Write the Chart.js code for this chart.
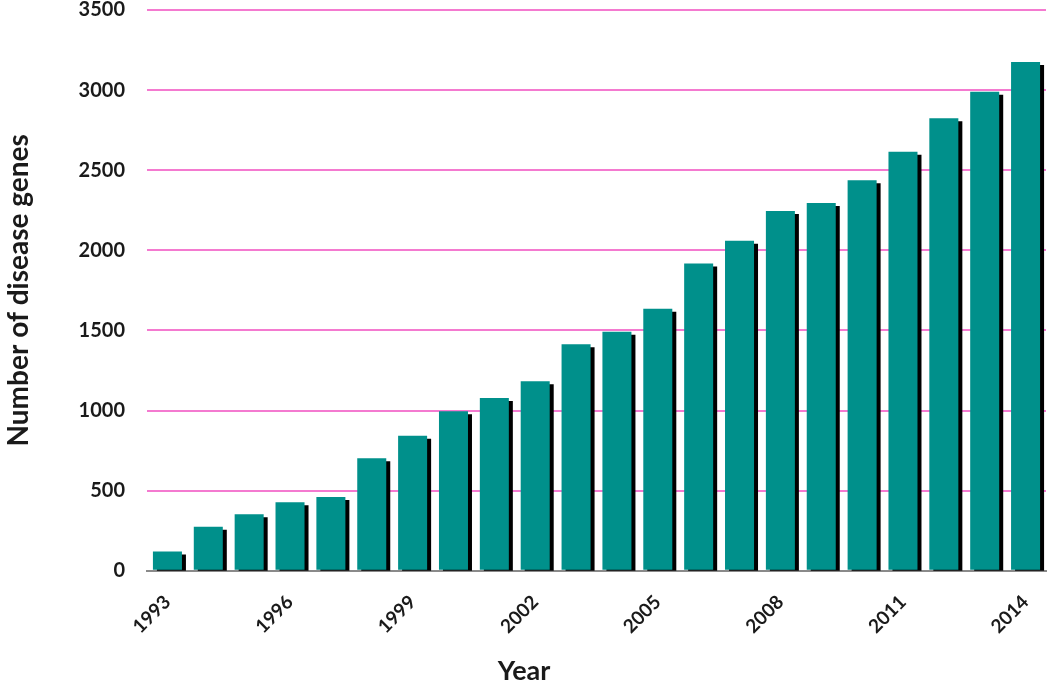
<!DOCTYPE html>
<html>
<head>
<meta charset="utf-8">
<script src="https://cdn.jsdelivr.net/npm/chart.js@4/dist/chart.umd.min.js"></script>
<style>
  html, body { margin: 0; padding: 0; background: #fff; }
  #wrap { width: 1050px; height: 685px; }
</style>
</head>
<body>
<div id="wrap"><canvas id="genes-chart"></canvas></div>
<script>
const years = [
  "1993", "1994", "1995", "1996", "1997", "1998", "1999", "2000", "2001", "2002", "2003",
  "2004", "2005", "2006", "2007", "2008", "2009", "2010", "2011", "2012", "2013", "2014",
];
const diseaseGenes = [
  120, 275, 352, 428, 460, 702, 843, 995, 1078, 1183, 1413,
  1492, 1635, 1918, 2060, 2245, 2295, 2437, 2615, 2825, 2990, 3175,
];
const shownYears = ["1993", "1996", "1999", "2002", "2005", "2008", "2011", "2014"];

const TEAL = "#00908b";
const PINK = "#f47ad0";
const INK  = "#1a1a1a";
const FONT = "Lato, 'Open Sans', sans-serif";

// ombre noire décalée derrière chaque barre
const barShadow = {
  id: "barShadow",
  beforeDatasetDraw(chart) {
    const c = chart.ctx;
    c.save();
    c.shadowColor   = "#000";
    c.shadowOffsetX = 4;
    c.shadowOffsetY = 3;
    c.shadowBlur    = 0;
  },
  afterDatasetDraw(chart) {
    chart.ctx.restore();
  },
};

const ctx = document.getElementById("genes-chart").getContext("2d");
new Chart(ctx, {
  type: "bar",
  data: {
    labels: years,
    datasets: [{
      label: "Number of disease genes",
      data: diseaseGenes,
      backgroundColor: TEAL,
      borderWidth: 0,
      categoryPercentage: 1,
      barPercentage: 0.71,
    }],
  },
  options: {
    responsive: true,
    maintainAspectRatio: false,
    animation: false,
    layout: { padding: { top: 0, right: 4, left: 2, bottom: 0 } },
    plugins: {
      legend: { display: false },
      tooltip: { enabled: false },
      title: {
        display: true,
        position: "bottom",
        text: "Year",
        color: INK,
        font: { family: FONT, size: 27, weight: "bold", lineHeight: 1 },
        padding: { top: 0, bottom: 0 },
      },
    },
    scales: {
      x: {
        grid: { display: false, drawTicks: false },
        border: { color: "#8a8a8a", width: 2 },
        // le dernier libellé incliné ne déborde pas à droite : pas de marge réservée
        afterFit: s => { s.paddingRight = 0; },
        ticks: {
          autoSkip: false,
          maxRotation: 45,
          minRotation: 45,
          padding: 20,
          color: INK,
          font: { family: FONT, size: 19, weight: "bold" },
          callback: function (v) {
            const y = this.getLabelForValue(v);
            return shownYears.includes(y) ? y : "";
          },
        },
      },
      y: {
        min: 0,
        max: 3500,
        // marques de graduation invisibles : elles servent d'écart entre libellés et grille
        grid: { color: PINK, lineWidth: 2, drawTicks: true, tickLength: 22, tickColor: "rgba(0,0,0,0)" },
        border: { display: false },
        ticks: {
          stepSize: 500,
          padding: 0,
          color: INK,
          font: { family: FONT, size: 20, weight: "bold", lineHeight: 1 },
          callback: v => String(v),
        },
        title: {
          display: true,
          text: "Number of disease genes",
          color: INK,
          font: { family: FONT, size: 28, weight: "bold" },
          padding: { top: 0, bottom: 43 },
        },
      },
    },
  },
  plugins: [barShadow],
});
</script>
</body>
</html>
